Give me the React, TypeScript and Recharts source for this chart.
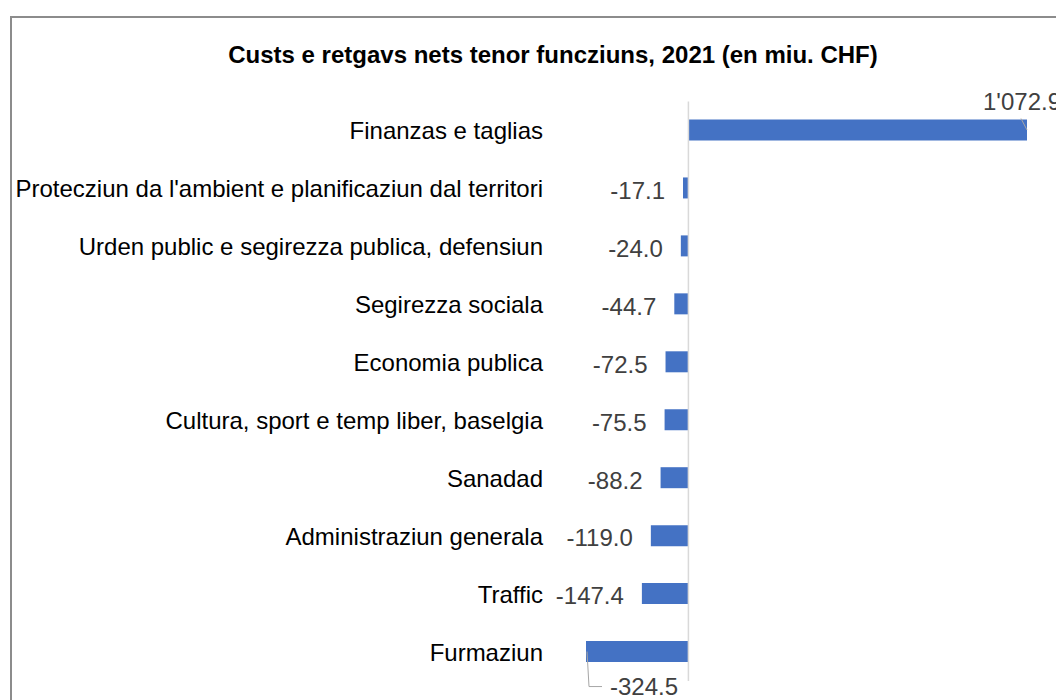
import { BarChart, Bar, XAxis, YAxis, ReferenceLine, LabelList } from "recharts";

const categories = [
  "Finanzas e taglias",
  "Protecziun da l'ambient e planificaziun dal territori",
  "Urden public e segirezza publica, defensiun",
  "Segirezza sociala",
  "Economia publica",
  "Cultura, sport e temp liber, baselgia",
  "Sanadad",
  "Administraziun generala",
  "Traffic",
  "Furmaziun",
];
const values = [1072.9, -17.1, -24.0, -44.7, -72.5, -75.5, -88.2, -119.0, -147.4, -324.5];
const title = "Custs e retgavs nets tenor funcziuns, 2021 (en miu. CHF)";

const data = categories.map((name, i) => ({ name, value: values[i] }));
const maxV = Math.max(...values);
const minV = Math.min(...values);

const font = "'Liberation Sans', Arial, sans-serif";
const labelColor = "#404040";
const leaderColor = "#a6a6a6";

// 1'072.9 style, one decimal
const fmt = (v: number) => {
  const [int, dec] = v.toFixed(1).split(".");
  return int.replace(/\B(?=(\d{3})+(?!\d))/g, "'") + "." + dec;
};

const renderLabel = (props: any) => {
  const { x, y, width, height, value } = props;
  const left = Math.min(x, x + width);
  const right = Math.max(x, x + width);
  const cy = y + height / 2;
  const txt = fmt(value);
  const common = { fill: labelColor, fontSize: 24, fontFamily: font };
  if (value === maxV) {
    return (
      <g>
        <path d={`M${right - 6},${cy - 11.5}L${right},${cy}`} stroke={leaderColor} fill='none' />
        <text x={right - 44} y={cy - 20.5} {...common}>
          {txt}
        </text>
      </g>
    );
  }
  if (value === minV) {
    return (
      <g>
        <path d={`M${left + 1},${cy}L${left + 3},${cy + 35}L${left + 16},${cy + 35}`} stroke={leaderColor} fill='none' />
        <text x={left + 24} y={cy + 43} {...common}>
          {txt}
        </text>
      </g>
    );
  }
  return (
    <text x={left - 18} y={cy} dy='0.45em' textAnchor='end' {...common}>
      {txt}
    </text>
  );
};

export default function App(): JSX.Element {
  return (
    <div>
      <div
        style={{
          position: "absolute",
          left: 10,
          top: 16,
          width: 1046,
          height: 684,
          boxSizing: "border-box",
          borderTop: "2px solid #8c8c8c",
          borderLeft: "2px solid #8c8c8c",
        }}
      />
      <div
        style={{
          position: "absolute",
          left: 553,
          top: 43,
          transform: "translateX(-50%)",
          whiteSpace: "nowrap",
          fontFamily: font,
          fontWeight: "bold",
          fontSize: 24,
          lineHeight: "24px",
          color: "#000",
        }}>
        {title}
      </div>
      <div style={{ position: "absolute", left: 0, top: 0 }}>
        <BarChart
          width={1056}
          height={700}
          layout='vertical'
          data={data}
          margin={{ top: 101.5, right: 29, bottom: 19, left: 0 }}>
          <XAxis type='number' domain={[minV, maxV]} allowDataOverflow hide />
          <YAxis
            type='category'
            dataKey='name'
            width={586}
            axisLine={false}
            tickLine={false}
            tickSize={0}
            tickMargin={43}
            interval={0}
            tick={{ fill: "#000", fontSize: 24, fontFamily: font }}
          />
          <Bar dataKey='value' fill='#4472C4' barSize={21} isAnimationActive={false}>
            <LabelList dataKey='value' content={renderLabel} />
          </Bar>
          <ReferenceLine x={0} stroke='#d9d9d9' strokeWidth={1.5} />
        </BarChart>
      </div>
    </div>
  );
}
